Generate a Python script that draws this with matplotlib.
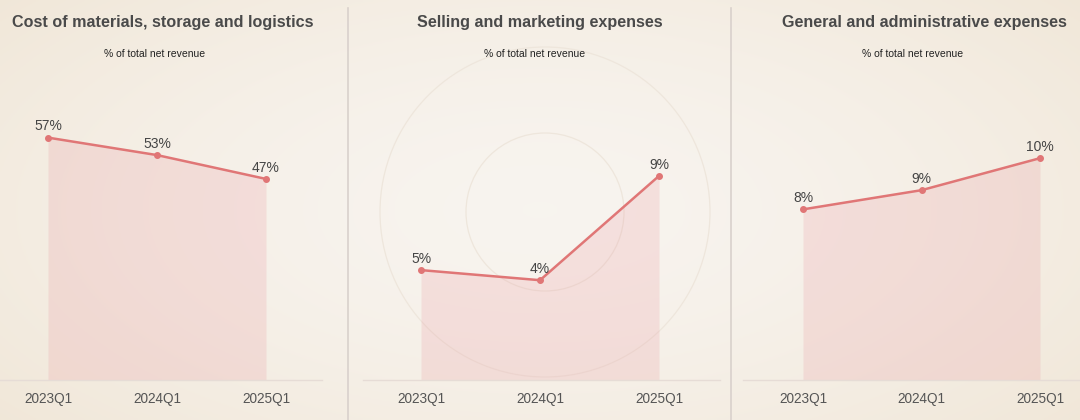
import numpy as np
import matplotlib
matplotlib.use("Agg")
import matplotlib.pyplot as plt
from matplotlib.patches import Circle

plt.rcParams['font.family'] = ['Liberation Sans', 'DejaVu Sans']

# data
quarters = ["2023Q1", "2024Q1", "2025Q1"]
titles = ["Cost of materials, storage and logistics",
          "Selling and marketing expenses",
          "General and administrative expenses"]
subtitle = "% of total net revenue"
cost_materials = [56.9, 52.8, 47.2]
selling_marketing = [4.9, 4.45, 9.1]
general_admin = [8.0, 8.9, 10.4]
series = [cost_materials, selling_marketing, general_admin]

W, H = 1080, 420
LINE = "#e07676"
FILL = "#e8909a"

# layout in pixels: axes left/right, first point, point spacing, y top value
panels = [
    dict(left=0, right=322, x0=48, dx=109, ytop=71.6),
    dict(left=363, right=720, x0=421, dx=119, ytop=13.6),
    dict(left=743, right=1080, x0=803, dx=118.5, ytop=14.3),
]
base_y, top_y = 380, 75

fig = plt.figure(figsize=(W / 100, H / 100), dpi=100)
fig.patch.set_facecolor("#f4eee5")

# soft background gradient
bg = fig.add_axes([0, 0, 1, 1], zorder=-10)
yy, xx = np.mgrid[0:1:200j, 0:1:500j]
r = np.sqrt(((xx - 0.5) / 0.75) ** 2 + ((yy - 0.5) / 0.9) ** 2)
c_in = np.array([0.972, 0.957, 0.937])
c_out = np.array([0.937, 0.894, 0.827])
t = np.clip(r, 0, 1)[..., None] ** 1.6
bg.imshow(c_in * (1 - t) + c_out * t, extent=[0, W, 0, H], aspect="auto")
for cx, cy, rad in [(545, 212, 165), (545, 212, 79)]:
    bg.add_patch(Circle((cx, H - cy), rad, fill=False, ec="#eee6dc", lw=0.9))
bg.set_xlim(0, W)
bg.set_ylim(0, H)
bg.axis("off")

# separators
for sx in [348, 731]:
    fig.add_artist(plt.Line2D([sx / W, sx / W], [0, 1 - 8 / H], color="#d9d1cc", lw=1.2))

for i, (p, vals) in enumerate(zip(panels, series)):
    ax = fig.add_axes([p["left"] / W, (H - base_y) / H,
                       (p["right"] - p["left"]) / W, (base_y - top_y) / H])
    ax.set_facecolor("none")
    x = np.arange(len(quarters))
    ax.fill_between(x, vals, 0, color=FILL, alpha=0.2, lw=0)
    ax.plot(x, vals, color=LINE, lw=1.8, marker="o", ms=4, zorder=3)
    for xi, v in zip(x, vals):
        ax.annotate("{:.0f}%".format(v), (xi, v), xytext=(0, 3), textcoords="offset points",
                    ha="center", va="bottom", fontsize=10, color="#444444")
    ax.set_xlim(-(p["x0"] - p["left"]) / p["dx"], (p["right"] - p["x0"]) / p["dx"])
    ax.set_ylim(0, p["ytop"])
    ax.set_xticks(x)
    ax.set_xticklabels(quarters, fontsize=9.8, color="#555555")
    ax.tick_params(axis="x", length=0, pad=9)
    ax.set_yticks([])
    for s in ["top", "left", "right"]:
        ax.spines[s].set_visible(False)
    ax.spines["bottom"].set_color("#e6dcd6")
    ax.spines["bottom"].set_linewidth(1)

# titles and subtitles in figure coordinates
fig.text(12 / W, 1 - 23 / H, titles[0], ha="left", va="center",
         fontsize=11.6, fontweight="bold", color="#4a4a4a")
fig.text(540 / W, 1 - 23 / H, titles[1], ha="center", va="center",
         fontsize=11.6, fontweight="bold", color="#4a4a4a")
fig.text(924 / W, 1 - 23 / H, titles[2], ha="center", va="center",
         fontsize=11.6, fontweight="bold", color="#4a4a4a")
for cx in [155, 535, 913]:
    fig.text(cx / W, 1 - 54 / H, subtitle, ha="center", va="center",
             fontsize=7.5, color="#222222")

fig.savefig("out.png", dpi=100, facecolor=fig.get_facecolor())
